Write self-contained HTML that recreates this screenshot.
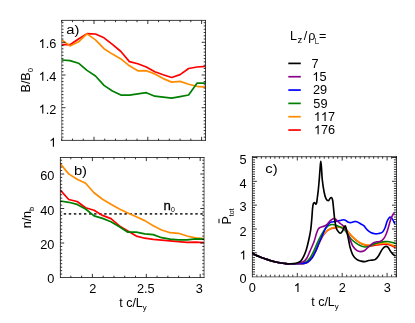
<!DOCTYPE html>
<html><head><meta charset="utf-8"><title>figure</title>
<style>html,body{margin:0;padding:0;background:#fff;overflow:hidden}body{width:415px;height:323px;font-family:"Liberation Sans", sans-serif}svg{will-change:transform}svg text{font-family:"Liberation Sans", sans-serif}</style>
</head><body>
<svg width="415" height="323" viewBox="0 0 415 323" style="display:block" fill="#000">
<rect x="0" y="0" width="415" height="323" fill="#fff"/>
<clipPath id="ca"><rect x="61.70" y="20.40" width="143.80" height="120.00"/></clipPath>
<g clip-path="url(#ca)" fill="none" stroke-width="1.70" stroke-linejoin="round" stroke-linecap="butt">
<path d="M61.70 44.70 L70.00 44.70 L78.50 39.00 L87.00 33.60 L95.50 34.00 L104.00 37.80 L112.40 44.30 L120.90 51.50 L129.40 61.60 L137.80 63.80 L146.30 67.00 L154.80 71.80 L163.20 74.80 L171.70 77.50 L180.10 74.60 L188.60 68.50 L197.00 67.00 L205.50 66.40" stroke="#ff0000"/>
<path d="M61.70 39.90 L70.00 45.90 L78.50 41.80 L87.00 33.90 L95.50 39.90 L104.00 48.70 L112.40 54.10 L120.90 58.90 L129.40 65.80 L137.80 70.80 L146.30 70.70 L154.80 73.90 L163.20 78.60 L171.70 82.10 L180.10 81.40 L188.60 84.20 L197.00 86.30 L205.50 87.10" stroke="#ff8c00"/>
<path d="M61.70 60.00 L70.00 60.60 L78.50 63.20 L87.00 70.40 L95.50 76.00 L104.00 85.40 L112.40 91.00 L120.90 95.10 L129.40 95.10 L137.80 93.80 L146.30 92.70 L154.80 96.20 L163.20 97.20 L171.70 98.20 L180.10 96.60 L188.60 95.00 L197.00 83.20 L205.50 83.20" stroke="#008000"/>
</g>
<path d="M61.70 20.05 V140.75" stroke="#000" stroke-width="0.50" fill="none"/>
<path d="M205.50 20.05 V140.75" stroke="#000" stroke-width="0.75" fill="none"/>
<path d="M61.35 20.40 H205.85" stroke="#000" stroke-width="0.75" fill="none"/>
<path d="M61.35 140.40 H205.85" stroke="#000" stroke-width="0.75" fill="none"/>
<path d="M61.72 140.40 v-1.80 M61.72 20.40 v1.80 M72.48 140.40 v-1.80 M72.48 20.40 v1.80 M83.24 140.40 v-1.80 M83.24 20.40 v1.80 M104.76 140.40 v-1.80 M104.76 20.40 v1.80 M115.52 140.40 v-1.80 M115.52 20.40 v1.80 M126.28 140.40 v-1.80 M126.28 20.40 v1.80 M137.04 140.40 v-1.80 M137.04 20.40 v1.80 M158.56 140.40 v-1.80 M158.56 20.40 v1.80 M169.32 140.40 v-1.80 M169.32 20.40 v1.80 M180.08 140.40 v-1.80 M180.08 20.40 v1.80 M190.84 140.40 v-1.80 M190.84 20.40 v1.80 " stroke="#000" stroke-width="0.8" fill="none"/>
<path d="M94.00 140.40 v-3.60 M94.00 20.40 v3.60 M147.80 140.40 v-3.60 M147.80 20.40 v3.60 M201.60 140.40 v-3.60 M201.60 20.40 v3.60 " stroke="#000" stroke-width="0.8" fill="none"/>
<path d="M61.70 137.13 h1.80 M205.50 137.13 h-1.80 M61.70 133.86 h1.80 M205.50 133.86 h-1.80 M61.70 130.59 h1.80 M205.50 130.59 h-1.80 M61.70 127.32 h1.80 M205.50 127.32 h-1.80 M61.70 124.05 h1.80 M205.50 124.05 h-1.80 M61.70 120.78 h1.80 M205.50 120.78 h-1.80 M61.70 117.51 h1.80 M205.50 117.51 h-1.80 M61.70 114.24 h1.80 M205.50 114.24 h-1.80 M61.70 110.97 h1.80 M205.50 110.97 h-1.80 M61.70 104.43 h1.80 M205.50 104.43 h-1.80 M61.70 101.16 h1.80 M205.50 101.16 h-1.80 M61.70 97.89 h1.80 M205.50 97.89 h-1.80 M61.70 94.62 h1.80 M205.50 94.62 h-1.80 M61.70 91.35 h1.80 M205.50 91.35 h-1.80 M61.70 88.08 h1.80 M205.50 88.08 h-1.80 M61.70 84.81 h1.80 M205.50 84.81 h-1.80 M61.70 81.54 h1.80 M205.50 81.54 h-1.80 M61.70 78.27 h1.80 M205.50 78.27 h-1.80 M61.70 71.73 h1.80 M205.50 71.73 h-1.80 M61.70 68.46 h1.80 M205.50 68.46 h-1.80 M61.70 65.19 h1.80 M205.50 65.19 h-1.80 M61.70 61.92 h1.80 M205.50 61.92 h-1.80 M61.70 58.65 h1.80 M205.50 58.65 h-1.80 M61.70 55.38 h1.80 M205.50 55.38 h-1.80 M61.70 52.11 h1.80 M205.50 52.11 h-1.80 M61.70 48.84 h1.80 M205.50 48.84 h-1.80 M61.70 45.57 h1.80 M205.50 45.57 h-1.80 M61.70 39.03 h1.80 M205.50 39.03 h-1.80 M61.70 35.76 h1.80 M205.50 35.76 h-1.80 M61.70 32.49 h1.80 M205.50 32.49 h-1.80 M61.70 29.22 h1.80 M205.50 29.22 h-1.80 M61.70 25.95 h1.80 M205.50 25.95 h-1.80 M61.70 22.68 h1.80 M205.50 22.68 h-1.80 " stroke="#000" stroke-width="0.8" fill="none"/>
<path d="M61.70 107.70 h3.80 M205.50 107.70 h-3.80 M61.70 75.00 h3.80 M205.50 75.00 h-3.80 M61.70 42.30 h3.80 M205.50 42.30 h-3.80 " stroke="#000" stroke-width="0.8" fill="none"/>
<path transform="translate(38.58,47.90) scale(0.00623,0.00610)" d="M763 0H583V-1147Q518 -1085 412.5 -1023T223 -930V-1104Q374 -1175 487 -1276T647 -1472H763Z" fill="#000"/>
<text transform="translate(45.67,47.90) scale(1.020,1)" font-size="12.50">.</text>
<text transform="translate(49.21,47.90) scale(1.020,1)" font-size="12.50">6</text>
<path transform="translate(38.58,80.70) scale(0.00623,0.00610)" d="M763 0H583V-1147Q518 -1085 412.5 -1023T223 -930V-1104Q374 -1175 487 -1276T647 -1472H763Z" fill="#000"/>
<text transform="translate(45.67,80.70) scale(1.020,1)" font-size="12.50">.</text>
<text transform="translate(49.21,80.70) scale(1.020,1)" font-size="12.50">4</text>
<path transform="translate(38.58,113.50) scale(0.00623,0.00610)" d="M763 0H583V-1147Q518 -1085 412.5 -1023T223 -930V-1104Q374 -1175 487 -1276T647 -1472H763Z" fill="#000"/>
<text transform="translate(45.67,113.50) scale(1.020,1)" font-size="12.50">.</text>
<text transform="translate(49.21,113.50) scale(1.020,1)" font-size="12.50">2</text>
<path transform="translate(49.21,146.80) scale(0.00623,0.00610)" d="M763 0H583V-1147Q518 -1085 412.5 -1023T223 -930V-1104Q374 -1175 487 -1276T647 -1472H763Z" fill="#000"/>
<text transform="translate(66.20,33.60) scale(1.110,1)" text-anchor="start" font-size="13.30" >a)</text>
<text transform="translate(29.8,80.2) rotate(-90)" text-anchor="middle" font-size="12.5">B/B<tspan font-size="7.8" dy="3.1">0</tspan></text>
<clipPath id="cb"><rect x="60.40" y="157.50" width="143.70" height="120.00"/></clipPath>
<g clip-path="url(#cb)" fill="none" stroke-width="1.70" stroke-linejoin="round">
<path d="M58.68 213.9 H204.10" stroke="#333" stroke-width="1.9" stroke-dasharray="2.4 2.66"/>
<path d="M60.30 190.00 L68.70 199.50 L77.15 201.50 L85.60 207.80 L94.05 210.30 L102.50 215.40 L110.95 218.60 L119.40 225.90 L127.85 231.00 L136.30 236.10 L144.75 238.20 L153.20 239.40 L161.65 240.10 L170.10 240.80 L178.55 241.70 L187.00 242.30 L195.45 242.10 L203.80 242.60" stroke="#ff0000"/>
<path d="M60.30 163.80 L68.70 173.90 L77.15 179.30 L85.60 183.30 L94.05 192.80 L102.50 199.20 L110.95 204.20 L119.40 209.00 L127.85 213.00 L136.30 216.80 L144.75 220.60 L153.20 225.80 L161.65 230.00 L170.10 232.70 L178.55 233.30 L187.00 236.00 L195.45 237.90 L203.80 238.60" stroke="#ff8c00"/>
<path d="M60.30 201.00 L68.70 202.30 L77.15 204.40 L85.60 209.00 L94.05 215.90 L102.50 218.40 L110.95 221.70 L119.40 226.80 L127.85 232.20 L136.30 232.10 L144.75 233.80 L153.20 234.60 L161.65 237.70 L170.10 239.20 L178.55 239.80 L187.00 239.80 L195.45 238.80 L203.80 239.20" stroke="#008000"/>
</g>
<path d="M60.40 157.15 V277.85" stroke="#000" stroke-width="0.75" fill="none"/>
<path d="M204.10 157.15 V277.85" stroke="#000" stroke-width="0.60" fill="none"/>
<path d="M60.05 157.50 H204.45" stroke="#000" stroke-width="0.75" fill="none"/>
<path d="M60.05 277.50 H204.45" stroke="#000" stroke-width="0.75" fill="none"/>
<path d="M70.84 277.50 v-1.80 M70.84 157.50 v1.80 M81.62 277.50 v-1.80 M81.62 157.50 v1.80 M103.18 277.50 v-1.80 M103.18 157.50 v1.80 M113.96 277.50 v-1.80 M113.96 157.50 v1.80 M124.74 277.50 v-1.80 M124.74 157.50 v1.80 M135.52 277.50 v-1.80 M135.52 157.50 v1.80 M157.08 277.50 v-1.80 M157.08 157.50 v1.80 M167.86 277.50 v-1.80 M167.86 157.50 v1.80 M178.64 277.50 v-1.80 M178.64 157.50 v1.80 M189.42 277.50 v-1.80 M189.42 157.50 v1.80 " stroke="#000" stroke-width="0.8" fill="none"/>
<path d="M92.40 277.50 v-3.60 M92.40 157.50 v3.60 M146.30 277.50 v-3.60 M146.30 157.50 v3.60 M200.20 277.50 v-3.60 M200.20 157.50 v3.60 " stroke="#000" stroke-width="0.8" fill="none"/>
<path d="M60.40 274.05 h1.80 M204.10 274.05 h-1.80 M60.40 270.60 h1.80 M204.10 270.60 h-1.80 M60.40 267.15 h1.80 M204.10 267.15 h-1.80 M60.40 263.70 h1.80 M204.10 263.70 h-1.80 M60.40 260.25 h1.80 M204.10 260.25 h-1.80 M60.40 256.80 h1.80 M204.10 256.80 h-1.80 M60.40 253.35 h1.80 M204.10 253.35 h-1.80 M60.40 249.90 h1.80 M204.10 249.90 h-1.80 M60.40 246.45 h1.80 M204.10 246.45 h-1.80 M60.40 239.55 h1.80 M204.10 239.55 h-1.80 M60.40 236.10 h1.80 M204.10 236.10 h-1.80 M60.40 232.65 h1.80 M204.10 232.65 h-1.80 M60.40 229.20 h1.80 M204.10 229.20 h-1.80 M60.40 225.75 h1.80 M204.10 225.75 h-1.80 M60.40 222.30 h1.80 M204.10 222.30 h-1.80 M60.40 218.85 h1.80 M204.10 218.85 h-1.80 M60.40 215.40 h1.80 M204.10 215.40 h-1.80 M60.40 211.95 h1.80 M204.10 211.95 h-1.80 M60.40 205.05 h1.80 M204.10 205.05 h-1.80 M60.40 201.60 h1.80 M204.10 201.60 h-1.80 M60.40 198.15 h1.80 M204.10 198.15 h-1.80 M60.40 194.70 h1.80 M204.10 194.70 h-1.80 M60.40 191.25 h1.80 M204.10 191.25 h-1.80 M60.40 187.80 h1.80 M204.10 187.80 h-1.80 M60.40 184.35 h1.80 M204.10 184.35 h-1.80 M60.40 180.90 h1.80 M204.10 180.90 h-1.80 M60.40 177.45 h1.80 M204.10 177.45 h-1.80 M60.40 170.55 h1.80 M204.10 170.55 h-1.80 M60.40 167.10 h1.80 M204.10 167.10 h-1.80 M60.40 163.65 h1.80 M204.10 163.65 h-1.80 M60.40 160.20 h1.80 M204.10 160.20 h-1.80 " stroke="#000" stroke-width="0.8" fill="none"/>
<path d="M60.40 243.00 h3.80 M204.10 243.00 h-3.80 M60.40 208.50 h3.80 M204.10 208.50 h-3.80 M60.40 174.00 h3.80 M204.10 174.00 h-3.80 " stroke="#000" stroke-width="0.8" fill="none"/>
<text transform="translate(54.40,180.00) scale(1.020,1)" text-anchor="end" font-size="12.50" >60</text>
<text transform="translate(54.40,214.60) scale(1.020,1)" text-anchor="end" font-size="12.50" >40</text>
<text transform="translate(54.40,249.00) scale(1.020,1)" text-anchor="end" font-size="12.50" >20</text>
<text transform="translate(54.40,283.00) scale(1.020,1)" text-anchor="end" font-size="12.50" >0</text>
<text transform="translate(92.80,292.80) scale(1.020,1)" text-anchor="middle" font-size="12.50" >2</text>
<text transform="translate(145.80,292.80) scale(1.020,1)" text-anchor="middle" font-size="12.50" >2.5</text>
<text transform="translate(199.30,292.80) scale(1.020,1)" text-anchor="middle" font-size="12.50" >3</text>
<text transform="translate(73.90,174.90) scale(1.110,1)" text-anchor="start" font-size="13.30" >b)</text>
<text transform="translate(30.7,217.6) rotate(-90)" text-anchor="middle" font-size="12.5">n/n<tspan font-size="7.3" dy="3.1">b</tspan></text>
<text x="119.2" y="307.2" font-size="12.5">t c/L<tspan font-size="7.8" dy="3.0">y</tspan></text>
<text transform="translate(163.6,210.3) scale(1.06,1)" font-size="12.5" stroke="#000" stroke-width="0.25">n<tspan font-size="6.6" dy="1.4" stroke="none">0</tspan></text>
<clipPath id="cc"><rect x="252.40" y="156.70" width="144.10" height="120.00"/></clipPath>
<g clip-path="url(#cc)" fill="none" stroke-width="1.60" stroke-linejoin="round" stroke-linecap="round">
<path d="M252.60 253.20 C253.17 253.53 254.77 254.58 256.00 255.20 C257.23 255.82 258.50 256.30 260.00 256.90 C261.50 257.50 263.33 258.22 265.00 258.80 C266.67 259.38 268.33 259.92 270.00 260.40 C271.67 260.88 273.33 261.30 275.00 261.70 C276.67 262.10 278.33 262.50 280.00 262.80 C281.67 263.10 283.33 263.33 285.00 263.50 C286.67 263.67 287.08 263.78 290.00 263.80 C292.92 263.82 299.58 263.85 302.50 263.60 C305.42 263.35 305.93 263.23 307.50 262.30 C309.07 261.37 310.53 259.87 311.90 258.00 C313.27 256.13 314.45 253.68 315.70 251.10 C316.95 248.52 318.27 244.95 319.40 242.50 C320.53 240.05 321.65 237.88 322.50 236.40 C323.35 234.92 323.68 234.55 324.50 233.60 C325.32 232.65 326.27 231.53 327.40 230.70 C328.53 229.87 330.02 229.12 331.30 228.60 C332.58 228.08 333.82 227.82 335.10 227.60 C336.38 227.38 337.72 227.27 339.00 227.30 C340.28 227.33 341.68 227.47 342.80 227.80 C343.92 228.13 344.73 228.50 345.70 229.30 C346.67 230.10 347.63 231.48 348.60 232.60 C349.57 233.72 350.37 234.82 351.50 236.00 C352.63 237.18 353.97 238.52 355.40 239.70 C356.83 240.88 358.53 242.22 360.10 243.10 C361.67 243.98 363.23 244.52 364.80 245.00 C366.37 245.48 367.97 245.92 369.50 246.00 C371.03 246.08 372.42 245.73 374.00 245.50 C375.58 245.27 377.40 244.83 379.00 244.60 C380.60 244.37 382.20 244.15 383.60 244.10 C385.00 244.05 386.05 244.02 387.40 244.30 C388.75 244.58 390.45 245.30 391.70 245.80 C392.95 246.30 394.37 247.05 394.90 247.30" stroke="#ff0000"/>
<path d="M252.60 253.20 C253.17 253.53 254.77 254.58 256.00 255.20 C257.23 255.82 258.50 256.30 260.00 256.90 C261.50 257.50 263.33 258.22 265.00 258.80 C266.67 259.38 268.33 259.92 270.00 260.40 C271.67 260.88 273.33 261.30 275.00 261.70 C276.67 262.10 278.33 262.50 280.00 262.80 C281.67 263.10 283.33 263.33 285.00 263.50 C286.67 263.67 287.08 263.78 290.00 263.80 C292.92 263.82 299.58 263.85 302.50 263.60 C305.42 263.35 305.93 263.23 307.50 262.30 C309.07 261.37 310.53 259.87 311.90 258.00 C313.27 256.13 314.45 253.68 315.70 251.10 C316.95 248.52 318.27 245.02 319.40 242.50 C320.53 239.98 321.65 237.55 322.50 236.00 C323.35 234.45 323.68 234.15 324.50 233.20 C325.32 232.25 326.27 231.13 327.40 230.30 C328.53 229.47 330.02 228.72 331.30 228.20 C332.58 227.68 333.82 227.42 335.10 227.20 C336.38 226.98 337.72 226.87 339.00 226.90 C340.28 226.93 341.68 227.07 342.80 227.40 C343.92 227.73 344.73 228.10 345.70 228.90 C346.67 229.70 347.63 231.08 348.60 232.20 C349.57 233.32 350.37 234.42 351.50 235.60 C352.63 236.78 353.97 238.12 355.40 239.30 C356.83 240.48 358.53 241.82 360.10 242.70 C361.67 243.58 363.23 244.22 364.80 244.60 C366.37 244.98 367.97 245.02 369.50 245.00 C371.03 244.98 372.42 244.73 374.00 244.50 C375.58 244.27 377.40 243.83 379.00 243.60 C380.60 243.37 382.20 243.15 383.60 243.10 C385.00 243.05 386.05 243.02 387.40 243.30 C388.75 243.58 390.45 244.30 391.70 244.80 C392.95 245.30 394.37 246.05 394.90 246.30" stroke="#ff8c00"/>
<path d="M252.60 253.20 C253.17 253.53 254.77 254.58 256.00 255.20 C257.23 255.82 258.50 256.30 260.00 256.90 C261.50 257.50 263.33 258.22 265.00 258.80 C266.67 259.38 268.33 259.92 270.00 260.40 C271.67 260.88 273.33 261.30 275.00 261.70 C276.67 262.10 278.33 262.50 280.00 262.80 C281.67 263.10 283.33 263.33 285.00 263.50 C286.67 263.67 287.38 263.85 290.00 263.80 C292.62 263.75 297.98 263.55 300.70 263.20 C303.42 262.85 304.75 262.57 306.30 261.70 C307.85 260.83 308.75 259.77 310.00 258.00 C311.25 256.23 312.53 253.72 313.80 251.10 C315.07 248.48 316.45 244.80 317.60 242.30 C318.75 239.80 319.70 237.93 320.70 236.10 C321.70 234.27 322.63 232.75 323.60 231.30 C324.57 229.85 325.55 228.40 326.50 227.40 C327.45 226.40 328.35 225.78 329.30 225.30 C330.25 224.82 331.23 224.55 332.20 224.50 C333.17 224.45 333.97 224.67 335.10 225.00 C336.23 225.33 337.87 226.02 339.00 226.50 C340.13 226.98 340.93 227.27 341.90 227.90 C342.87 228.53 343.83 229.25 344.80 230.30 C345.77 231.35 346.62 232.70 347.70 234.20 C348.78 235.70 350.02 237.90 351.30 239.30 C352.58 240.70 353.93 241.55 355.40 242.60 C356.87 243.65 358.53 244.87 360.10 245.60 C361.67 246.33 363.23 246.90 364.80 247.00 C366.37 247.10 367.93 246.70 369.50 246.20 C371.07 245.70 372.62 244.62 374.20 244.00 C375.78 243.38 377.43 242.87 379.00 242.50 C380.57 242.13 382.20 241.97 383.60 241.80 C385.00 241.63 385.93 241.38 387.40 241.50 C388.87 241.62 391.05 242.17 392.40 242.50 C393.75 242.83 394.98 243.33 395.50 243.50" stroke="#008000"/>
<path d="M252.60 253.20 C253.17 253.53 254.77 254.58 256.00 255.20 C257.23 255.82 258.50 256.30 260.00 256.90 C261.50 257.50 263.33 258.22 265.00 258.80 C266.67 259.38 268.33 259.92 270.00 260.40 C271.67 260.88 273.33 261.30 275.00 261.70 C276.67 262.10 278.33 262.50 280.00 262.80 C281.67 263.10 283.33 263.33 285.00 263.50 C286.67 263.67 287.08 263.78 290.00 263.80 C292.92 263.82 299.58 263.85 302.50 263.60 C305.42 263.35 305.93 263.23 307.50 262.30 C309.07 261.37 310.53 259.87 311.90 258.00 C313.27 256.13 314.45 253.72 315.70 251.10 C316.95 248.48 318.25 244.97 319.40 242.30 C320.55 239.63 321.75 237.10 322.60 235.10 C323.45 233.10 323.85 231.73 324.50 230.30 C325.15 228.87 325.77 227.62 326.50 226.50 C327.23 225.38 328.10 224.33 328.90 223.60 C329.70 222.87 330.42 222.43 331.30 222.10 C332.18 221.77 333.23 221.75 334.20 221.60 C335.17 221.45 336.13 221.38 337.10 221.20 C338.07 221.02 338.97 220.75 340.00 220.50 C341.03 220.25 342.42 219.75 343.30 219.70 C344.18 219.65 344.57 219.83 345.30 220.20 C346.03 220.57 346.82 221.50 347.70 221.90 C348.58 222.30 349.58 222.63 350.60 222.60 C351.62 222.57 352.75 221.85 353.80 221.70 C354.85 221.55 355.65 221.28 356.90 221.70 C358.15 222.12 360.15 223.53 361.30 224.20 C362.45 224.87 362.77 224.72 363.80 225.70 C364.83 226.68 366.25 228.92 367.50 230.10 C368.75 231.28 370.05 232.18 371.30 232.80 C372.55 233.42 373.75 233.68 375.00 233.80 C376.25 233.92 377.53 233.80 378.80 233.50 C380.07 233.20 381.55 232.98 382.60 232.00 C383.65 231.02 384.38 229.28 385.10 227.60 C385.82 225.92 386.28 223.47 386.90 221.90 C387.52 220.33 388.17 218.98 388.80 218.20 C389.43 217.42 390.07 217.00 390.70 217.20 C391.33 217.40 391.97 218.40 392.60 219.40 C393.23 220.40 394.18 222.57 394.50 223.20" stroke="#0000ff"/>
<path d="M252.60 253.20 C253.17 253.53 254.77 254.58 256.00 255.20 C257.23 255.82 258.50 256.30 260.00 256.90 C261.50 257.50 263.33 258.22 265.00 258.80 C266.67 259.38 268.33 259.92 270.00 260.40 C271.67 260.88 273.33 261.30 275.00 261.70 C276.67 262.10 278.33 262.50 280.00 262.80 C281.67 263.10 283.33 263.33 285.00 263.50 C286.67 263.67 287.92 263.85 290.00 263.80 C292.08 263.75 295.30 263.55 297.50 263.20 C299.70 262.85 301.63 262.57 303.20 261.70 C304.77 260.83 305.77 259.77 306.90 258.00 C308.03 256.23 308.85 253.72 310.00 251.10 C311.15 248.48 312.75 245.13 313.80 242.30 C314.85 239.47 315.57 236.30 316.30 234.10 C317.03 231.90 317.57 230.20 318.20 229.10 C318.83 228.00 319.60 227.83 320.10 227.50 C320.60 227.17 320.47 227.35 321.20 227.10 C321.93 226.85 323.47 226.52 324.50 226.00 C325.53 225.48 326.43 224.88 327.40 224.00 C328.37 223.12 329.33 221.58 330.30 220.70 C331.27 219.82 332.32 218.95 333.20 218.70 C334.08 218.45 334.80 218.72 335.60 219.20 C336.40 219.68 337.12 220.80 338.00 221.60 C338.88 222.40 339.93 223.18 340.90 224.00 C341.87 224.82 342.92 225.45 343.80 226.50 C344.68 227.55 345.40 228.70 346.20 230.30 C347.00 231.90 347.87 234.33 348.60 236.10 C349.33 237.87 349.88 239.20 350.60 240.90 C351.32 242.60 351.88 244.73 352.90 246.30 C353.92 247.87 355.45 249.42 356.70 250.30 C357.95 251.18 359.15 251.53 360.40 251.60 C361.65 251.67 362.83 251.48 364.20 250.70 C365.57 249.92 367.15 248.15 368.60 246.90 C370.05 245.65 371.55 244.03 372.90 243.20 C374.25 242.37 375.43 242.22 376.70 241.90 C377.97 241.58 379.35 241.82 380.50 241.30 C381.65 240.78 382.72 239.85 383.60 238.80 C384.48 237.75 385.13 236.45 385.80 235.00 C386.47 233.55 386.88 232.38 387.60 230.10 C388.32 227.82 389.37 223.60 390.10 221.30 C390.83 219.00 391.33 217.70 392.00 216.30 C392.67 214.90 393.75 213.47 394.10 212.90" stroke="#8b008b"/>
<path d="M252.60 253.20 C253.17 253.53 254.77 254.58 256.00 255.20 C257.23 255.82 258.50 256.30 260.00 256.90 C261.50 257.50 263.33 258.22 265.00 258.80 C266.67 259.38 268.33 259.92 270.00 260.40 C271.67 260.88 273.33 261.30 275.00 261.70 C276.67 262.10 278.33 262.50 280.00 262.80 C281.67 263.10 283.33 263.33 285.00 263.50 C286.67 263.67 288.12 263.85 290.00 263.80 C291.88 263.75 294.52 263.65 296.30 263.20 C298.08 262.75 299.45 262.28 300.70 261.10 C301.95 259.92 302.87 257.98 303.80 256.10 C304.73 254.22 305.47 252.52 306.30 249.80 C307.13 247.08 308.07 243.13 308.80 239.80 C309.53 236.47 310.22 233.10 310.70 229.80 C311.18 226.50 311.38 223.63 311.70 220.00 C312.02 216.37 312.32 210.73 312.60 208.00 C312.88 205.27 313.10 204.52 313.40 203.60 C313.70 202.68 314.07 202.50 314.40 202.50 C314.73 202.50 315.13 203.32 315.40 203.60 C315.67 203.88 315.78 204.38 316.00 204.20 C316.22 204.02 316.45 203.78 316.70 202.50 C316.95 201.22 317.23 198.58 317.50 196.50 C317.77 194.42 318.02 192.75 318.30 190.00 C318.58 187.25 318.90 183.67 319.20 180.00 C319.50 176.33 319.83 171.12 320.10 168.00 C320.37 164.88 320.57 161.30 320.80 161.30 C321.03 161.30 321.25 164.88 321.50 168.00 C321.75 171.12 321.85 175.92 322.30 180.00 C322.75 184.08 323.57 189.37 324.20 192.50 C324.83 195.63 325.42 197.43 326.10 198.80 C326.78 200.17 327.68 200.70 328.30 200.70 C328.92 200.70 329.30 199.33 329.80 198.80 C330.30 198.27 330.83 197.30 331.30 197.50 C331.77 197.70 332.22 198.12 332.60 200.00 C332.98 201.88 333.25 205.52 333.60 208.80 C333.95 212.08 334.28 216.60 334.70 219.70 C335.12 222.80 335.55 225.47 336.10 227.40 C336.65 229.33 337.28 230.33 338.00 231.30 C338.72 232.27 339.67 233.20 340.40 233.20 C341.13 233.20 341.75 232.35 342.40 231.30 C343.05 230.25 343.82 227.78 344.30 226.90 C344.78 226.02 344.98 225.75 345.30 226.00 C345.62 226.25 345.80 226.82 346.20 228.40 C346.60 229.98 347.23 233.23 347.70 235.50 C348.17 237.77 348.62 240.08 349.00 242.00 C349.38 243.92 349.35 244.82 350.00 247.00 C350.65 249.18 351.78 253.03 352.90 255.10 C354.02 257.17 355.35 258.40 356.70 259.40 C358.05 260.40 359.65 260.73 361.00 261.10 C362.35 261.47 363.53 261.70 364.80 261.60 C366.07 261.50 367.35 260.75 368.60 260.50 C369.85 260.25 371.17 260.28 372.30 260.10 C373.43 259.92 374.35 260.13 375.40 259.40 C376.45 258.67 377.55 257.25 378.60 255.70 C379.65 254.15 380.77 251.52 381.70 250.10 C382.63 248.68 383.47 247.83 384.20 247.20 C384.93 246.57 385.47 246.30 386.10 246.30 C386.73 246.30 387.27 246.37 388.00 247.20 C388.73 248.03 389.67 250.10 390.50 251.30 C391.33 252.50 392.27 253.67 393.00 254.40 C393.73 255.13 394.58 255.48 394.90 255.70" stroke="#000000" stroke-width="1.65"/>
</g>
<path d="M252.40 156.35 V277.20" stroke="#000" stroke-width="0.75" fill="none"/>
<path d="M396.50 156.35 V277.20" stroke="#000" stroke-width="0.75" fill="none"/>
<path d="M252.05 156.70 H396.85" stroke="#000" stroke-width="0.75" fill="none"/>
<path d="M252.05 276.85 H396.85" stroke="#000" stroke-width="0.60" fill="none"/>
<path d="M256.89 276.70 v-2.00 M256.89 156.70 v2.00 M261.38 276.70 v-2.00 M261.38 156.70 v2.00 M265.87 276.70 v-2.00 M265.87 156.70 v2.00 M270.36 276.70 v-2.00 M270.36 156.70 v2.00 M274.85 276.70 v-2.00 M274.85 156.70 v2.00 M279.34 276.70 v-2.00 M279.34 156.70 v2.00 M283.83 276.70 v-2.00 M283.83 156.70 v2.00 M288.32 276.70 v-2.00 M288.32 156.70 v2.00 M292.81 276.70 v-2.00 M292.81 156.70 v2.00 M301.79 276.70 v-2.00 M301.79 156.70 v2.00 M306.28 276.70 v-2.00 M306.28 156.70 v2.00 M310.77 276.70 v-2.00 M310.77 156.70 v2.00 M315.26 276.70 v-2.00 M315.26 156.70 v2.00 M319.75 276.70 v-2.00 M319.75 156.70 v2.00 M324.24 276.70 v-2.00 M324.24 156.70 v2.00 M328.73 276.70 v-2.00 M328.73 156.70 v2.00 M333.22 276.70 v-2.00 M333.22 156.70 v2.00 M337.71 276.70 v-2.00 M337.71 156.70 v2.00 M346.69 276.70 v-2.00 M346.69 156.70 v2.00 M351.18 276.70 v-2.00 M351.18 156.70 v2.00 M355.67 276.70 v-2.00 M355.67 156.70 v2.00 M360.16 276.70 v-2.00 M360.16 156.70 v2.00 M364.65 276.70 v-2.00 M364.65 156.70 v2.00 M369.14 276.70 v-2.00 M369.14 156.70 v2.00 M373.63 276.70 v-2.00 M373.63 156.70 v2.00 M378.12 276.70 v-2.00 M378.12 156.70 v2.00 M382.61 276.70 v-2.00 M382.61 156.70 v2.00 M391.59 276.70 v-2.00 M391.59 156.70 v2.00 M396.08 276.70 v-2.00 M396.08 156.70 v2.00 " stroke="#000" stroke-width="0.8" fill="none"/>
<path d="M297.30 276.70 v-3.80 M297.30 156.70 v3.80 M342.20 276.70 v-3.80 M342.20 156.70 v3.80 M387.10 276.70 v-3.80 M387.10 156.70 v3.80 " stroke="#000" stroke-width="0.8" fill="none"/>
<path d="M252.40 274.27 h2.60 M396.50 274.27 h-2.60 M252.40 271.88 h2.60 M396.50 271.88 h-2.60 M252.40 269.50 h2.60 M396.50 269.50 h-2.60 M252.40 267.12 h2.60 M396.50 267.12 h-2.60 M252.40 264.73 h2.60 M396.50 264.73 h-2.60 M252.40 262.35 h2.60 M396.50 262.35 h-2.60 M252.40 259.97 h2.60 M396.50 259.97 h-2.60 M252.40 257.59 h2.60 M396.50 257.59 h-2.60 M252.40 255.20 h2.60 M396.50 255.20 h-2.60 M252.40 250.44 h2.60 M396.50 250.44 h-2.60 M252.40 248.05 h2.60 M396.50 248.05 h-2.60 M252.40 245.67 h2.60 M396.50 245.67 h-2.60 M252.40 243.29 h2.60 M396.50 243.29 h-2.60 M252.40 240.90 h2.60 M396.50 240.90 h-2.60 M252.40 238.52 h2.60 M396.50 238.52 h-2.60 M252.40 236.14 h2.60 M396.50 236.14 h-2.60 M252.40 233.76 h2.60 M396.50 233.76 h-2.60 M252.40 231.37 h2.60 M396.50 231.37 h-2.60 M252.40 226.61 h2.60 M396.50 226.61 h-2.60 M252.40 224.22 h2.60 M396.50 224.22 h-2.60 M252.40 221.84 h2.60 M396.50 221.84 h-2.60 M252.40 219.46 h2.60 M396.50 219.46 h-2.60 M252.40 217.07 h2.60 M396.50 217.07 h-2.60 M252.40 214.69 h2.60 M396.50 214.69 h-2.60 M252.40 212.31 h2.60 M396.50 212.31 h-2.60 M252.40 209.93 h2.60 M396.50 209.93 h-2.60 M252.40 207.54 h2.60 M396.50 207.54 h-2.60 M252.40 202.78 h2.60 M396.50 202.78 h-2.60 M252.40 200.39 h2.60 M396.50 200.39 h-2.60 M252.40 198.01 h2.60 M396.50 198.01 h-2.60 M252.40 195.63 h2.60 M396.50 195.63 h-2.60 M252.40 193.24 h2.60 M396.50 193.24 h-2.60 M252.40 190.86 h2.60 M396.50 190.86 h-2.60 M252.40 188.48 h2.60 M396.50 188.48 h-2.60 M252.40 186.10 h2.60 M396.50 186.10 h-2.60 M252.40 183.71 h2.60 M396.50 183.71 h-2.60 M252.40 178.95 h2.60 M396.50 178.95 h-2.60 M252.40 176.56 h2.60 M396.50 176.56 h-2.60 M252.40 174.18 h2.60 M396.50 174.18 h-2.60 M252.40 171.80 h2.60 M396.50 171.80 h-2.60 M252.40 169.41 h2.60 M396.50 169.41 h-2.60 M252.40 167.03 h2.60 M396.50 167.03 h-2.60 M252.40 164.65 h2.60 M396.50 164.65 h-2.60 M252.40 162.27 h2.60 M396.50 162.27 h-2.60 M252.40 159.88 h2.60 M396.50 159.88 h-2.60 " stroke="#000" stroke-width="0.8" fill="none"/>
<path d="M252.40 252.82 h4.50 M396.50 252.82 h-4.50 M252.40 228.99 h4.50 M396.50 228.99 h-4.50 M252.40 205.16 h4.50 M396.50 205.16 h-4.50 M252.40 181.33 h4.50 M396.50 181.33 h-4.50 M252.40 157.50 h4.50 M396.50 157.50 h-4.50 " stroke="#000" stroke-width="0.8" fill="none"/>
<text transform="translate(246.60,163.70) scale(1.020,1)" text-anchor="end" font-size="12.50" >5</text>
<text transform="translate(246.60,187.90) scale(1.020,1)" text-anchor="end" font-size="12.50" >4</text>
<text transform="translate(246.60,210.90) scale(1.020,1)" text-anchor="end" font-size="12.50" >3</text>
<text transform="translate(246.60,236.00) scale(1.020,1)" text-anchor="end" font-size="12.50" >2</text>
<path transform="translate(239.51,259.60) scale(0.00623,0.00610)" d="M763 0H583V-1147Q518 -1085 412.5 -1023T223 -930V-1104Q374 -1175 487 -1276T647 -1472H763Z" fill="#000"/>
<text transform="translate(246.60,282.80) scale(1.020,1)" text-anchor="end" font-size="12.50" >0</text>
<text transform="translate(252.20,291.90) scale(1.020,1)" text-anchor="middle" font-size="12.50" >0</text>
<path transform="translate(293.76,291.90) scale(0.00623,0.00610)" d="M763 0H583V-1147Q518 -1085 412.5 -1023T223 -930V-1104Q374 -1175 487 -1276T647 -1472H763Z" fill="#000"/>
<text transform="translate(342.40,291.90) scale(1.020,1)" text-anchor="middle" font-size="12.50" >2</text>
<text transform="translate(387.20,291.90) scale(1.020,1)" text-anchor="middle" font-size="12.50" >3</text>
<text transform="translate(265.30,173.40) scale(1.110,1)" text-anchor="start" font-size="13.30" >c)</text>
<text transform="translate(230.8,216.5) rotate(-90)" text-anchor="middle" font-size="12.5">P<tspan font-size="7" dy="3.2">tot</tspan></text>
<path d="M219 218.8 V223.2" stroke="#000" stroke-width="1"/>
<text x="311.2" y="306.0" font-size="12.5">t c/L<tspan font-size="7.8" dy="3.0">y</tspan></text>
<text x="290.10" y="39.70" font-size="12.60" fill="#000">L</text>
<text x="297.50" y="43.40" font-size="9.60" fill="#000">z</text>
<text x="303.70" y="39.70" font-size="12.60" fill="#000">/</text>
<text x="308.20" y="39.70" font-size="12.60" fill="#000">ρ</text>
<text x="314.60" y="43.80" font-size="8.60" fill="#4a4a4a">L</text>
<text x="319.00" y="39.70" font-size="12.60" fill="#000">=</text>
<path d="M288.3 63.40 H300.8" stroke="#000000" stroke-width="1.7" fill="none"/>
<text transform="translate(311.50,67.70) scale(1.020,1)" text-anchor="start" font-size="12.50" >7</text>
<path d="M288.3 76.73 H300.8" stroke="#8b008b" stroke-width="1.7" fill="none"/>
<path transform="translate(312.30,81.03) scale(0.00623,0.00610)" d="M763 0H583V-1147Q518 -1085 412.5 -1023T223 -930V-1104Q374 -1175 487 -1276T647 -1472H763Z" fill="#000"/>
<text transform="translate(319.39,81.03) scale(1.020,1)" font-size="12.50">5</text>
<path d="M288.3 90.06 H300.8" stroke="#0000ff" stroke-width="1.7" fill="none"/>
<text transform="translate(312.90,94.36) scale(1.020,1)" text-anchor="start" font-size="12.50" >29</text>
<path d="M288.3 103.39 H300.8" stroke="#008000" stroke-width="1.7" fill="none"/>
<text transform="translate(313.30,107.69) scale(1.020,1)" text-anchor="start" font-size="12.50" >59</text>
<path d="M288.3 116.72 H300.8" stroke="#ff8c00" stroke-width="1.7" fill="none"/>
<path transform="translate(313.80,121.02) scale(0.00623,0.00610)" d="M763 0H583V-1147Q518 -1085 412.5 -1023T223 -930V-1104Q374 -1175 487 -1276T647 -1472H763Z" fill="#000"/>
<path transform="translate(320.89,121.02) scale(0.00623,0.00610)" d="M763 0H583V-1147Q518 -1085 412.5 -1023T223 -930V-1104Q374 -1175 487 -1276T647 -1472H763Z" fill="#000"/>
<text transform="translate(327.98,121.02) scale(1.020,1)" font-size="12.50">7</text>
<path d="M288.3 130.05 H300.8" stroke="#ff0000" stroke-width="1.7" fill="none"/>
<path transform="translate(313.90,134.35) scale(0.00623,0.00610)" d="M763 0H583V-1147Q518 -1085 412.5 -1023T223 -930V-1104Q374 -1175 487 -1276T647 -1472H763Z" fill="#000"/>
<text transform="translate(320.99,134.35) scale(1.020,1)" font-size="12.50">7</text>
<text transform="translate(328.08,134.35) scale(1.020,1)" font-size="12.50">6</text>
</svg>
</body></html>
